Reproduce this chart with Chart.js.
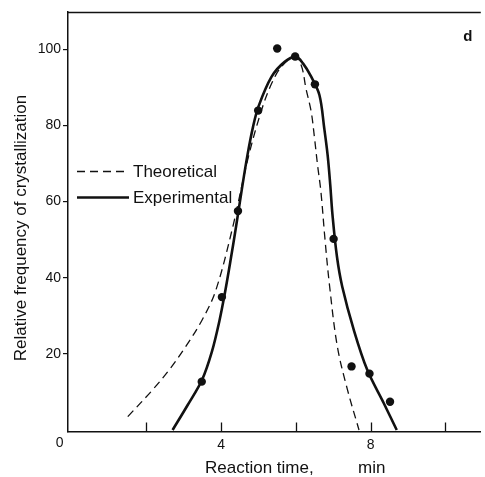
<!DOCTYPE html>
<html>
<head>
<meta charset="utf-8">
<script src="https://cdn.jsdelivr.net/npm/chart.js@4/dist/chart.umd.min.js"></script>
<style>
html,body{margin:0;padding:0;background:#fff;}
#wrap{width:485px;height:477px;}
</style>
</head>
<body>
<div id="wrap"><canvas id="c" width="485" height="477"></canvas></div>
<script>
// Theoretical curve (dashed)
const theoX = [1.50, 2.17, 2.61, 3.05, 3.49, 3.85, 4.29, 4.73, 5.08, 5.35, 5.61, 5.95, 6.14, 6.27, 6.41, 6.50, 6.58, 6.67, 6.78, 6.90, 7.11, 7.38, 7.69];
const theoY = [3.5, 10.6, 15.8, 21.9, 28.9, 36.5, 52.5, 71.8, 84.0, 91.0, 95.4, 98.0, 95.9, 89.7, 83.6, 76.6, 69.6, 62.6, 50.0, 38.0, 21.9, 10.6, 0];
// Experimental curve (solid)
const expX = [2.70, 3.10, 3.49, 3.75, 3.95, 4.10, 4.25, 4.40, 4.55, 4.70, 4.85, 5.00, 5.35, 5.70, 6.00, 6.19, 6.41, 6.63, 6.76, 6.85, 6.92, 6.98, 7.10, 7.24, 7.55, 7.91, 8.35, 8.70];
const expY = [0, 6.5, 13.2, 20.5, 28.5, 36.0, 44.5, 53.5, 63.0, 72.0, 79.5, 85.0, 92.8, 96.7, 98.0, 96.3, 92.8, 88.0, 79.2, 72.2, 64.4, 56.5, 45.5, 37.7, 26.3, 15.8, 7.1, 0];
// Experimental data points
const dotX = [3.48, 4.02, 4.45, 4.99, 5.50, 5.98, 6.51, 7.01, 7.49, 7.97, 8.52];
const dotY = [12.7, 34.9, 57.5, 83.9, 100.2, 98.1, 90.8, 50.2, 16.7, 14.8, 7.4];
// Ticks
const xTickLabels = [4, 8];
const xTickMarks = [2, 4, 6, 8, 10];
const yTickLabels = [20, 40, 60, 80, 100];
const legendLabels = ["Theoretical", "Experimental"];
const xTitle = "Reaction time,";
const xUnit = "min";
const yTitle = "Relative frequency of crystallization";
const panelLabel = "d";

const FONT = "'Liberation Sans', Arial, sans-serif";
const INK = "#111";

const pts = (xs, ys) => xs.map((x, i) => ({x: x, y: ys[i]}));

const deco = {
  id: 'deco',
  afterDraw(chart) {
    const ctx = chart.ctx;
    const a = chart.chartArea;
    const xs = chart.scales.x;
    ctx.save();
    ctx.strokeStyle = INK;
    ctx.fillStyle = INK;
    // top frame line
    ctx.lineWidth = 1.4;
    ctx.beginPath();
    ctx.moveTo(a.left, a.top + 0.5);
    ctx.lineTo(a.right, a.top + 0.5);
    ctx.stroke();
    // inside x tick marks
    ctx.lineWidth = 1.3;
    xTickMarks.forEach(v => {
      const px = Math.round(xs.getPixelForValue(v)) + 0.5;
      ctx.beginPath();
      ctx.moveTo(px, a.bottom);
      ctx.lineTo(px, a.bottom - 9);
      ctx.stroke();
    });
    // "0" label at origin
    ctx.font = "14px " + FONT;
    ctx.textAlign = "center";
    ctx.textBaseline = "middle";
    ctx.fillText("0", xs.getPixelForValue(0) - 12, a.bottom + 12);
    // x title
    ctx.font = "17px " + FONT;
    ctx.textBaseline = "middle";
    ctx.textAlign = "left";
    ctx.fillText(xTitle, 205, 468);
    ctx.fillText(xUnit, 358, 468);
    // y title
    ctx.save();
    ctx.translate(21, 228);
    ctx.rotate(-Math.PI / 2);
    ctx.textAlign = "center";
    ctx.fillText(yTitle, 0, 0);
    ctx.restore();
    // panel label
    ctx.font = "bold 15px " + FONT;
    ctx.textAlign = "center";
    ctx.fillText(panelLabel, a.right - 13, a.top + 25);
    // legend
    ctx.font = "17px " + FONT;
    ctx.textAlign = "left";
    ctx.lineWidth = 1.3;
    ctx.setLineDash([8, 5]);
    ctx.beginPath();
    ctx.moveTo(77, 171.5);
    ctx.lineTo(128, 171.5);
    ctx.stroke();
    ctx.setLineDash([]);
    ctx.lineWidth = 2.6;
    ctx.beginPath();
    ctx.moveTo(77, 197.5);
    ctx.lineTo(129, 197.5);
    ctx.stroke();
    ctx.fillText(legendLabels[0], 133, 172);
    ctx.fillText(legendLabels[1], 133, 198);
    ctx.restore();
  }
};

new Chart(document.getElementById('c'), {
  type: 'scatter',
  data: {
    datasets: [
      {
        label: legendLabels[0],
        data: pts(theoX, theoY),
        showLine: true,
        borderColor: INK,
        borderWidth: 1.3,
        borderDash: [8, 5],
        pointRadius: 0,
        tension: 0.35,
        fill: false
      },
      {
        label: legendLabels[1],
        data: pts(expX, expY),
        showLine: true,
        borderColor: INK,
        borderWidth: 2.6,
        pointRadius: 0,
        tension: 0.35,
        fill: false
      },
      {
        label: 'points',
        data: pts(dotX, dotY),
        showLine: false,
        pointRadius: 4.2,
        pointBackgroundColor: INK,
        pointBorderColor: INK,
        pointBorderWidth: 0
      }
    ]
  },
  options: {
    responsive: false,
    animation: false,
    devicePixelRatio: 1,
    layout: {padding: {top: 12, right: 0, left: 0, bottom: 0}},
    plugins: {legend: {display: false}, tooltip: {enabled: false}},
    scales: {
      x: {
        type: 'linear',
        min: -0.1,
        max: 10.95,
        afterBuildTicks: s => { s.ticks = xTickLabels.map(v => ({value: v})); },
        afterFit: s => { s.height = 45.5; },
        grid: {display: false, drawTicks: false},
        border: {display: true, color: INK, width: 1.5},
        ticks: {color: INK, font: {family: FONT, size: 14}, padding: 5, maxRotation: 0}
      },
      y: {
        type: 'linear',
        min: -0.4,
        max: 109.8,
        afterBuildTicks: s => { s.ticks = yTickLabels.map(v => ({value: v})); },
        afterFit: s => { s.width = 68; },
        grid: {display: true, drawOnChartArea: false, drawTicks: true, tickLength: 5, color: INK, lineWidth: 1.2},
        border: {display: true, color: INK, width: 1.5},
        ticks: {color: INK, font: {family: FONT, size: 14}, padding: 2}
      }
    }
  },
  plugins: [deco]
});
</script>
</body>
</html>
